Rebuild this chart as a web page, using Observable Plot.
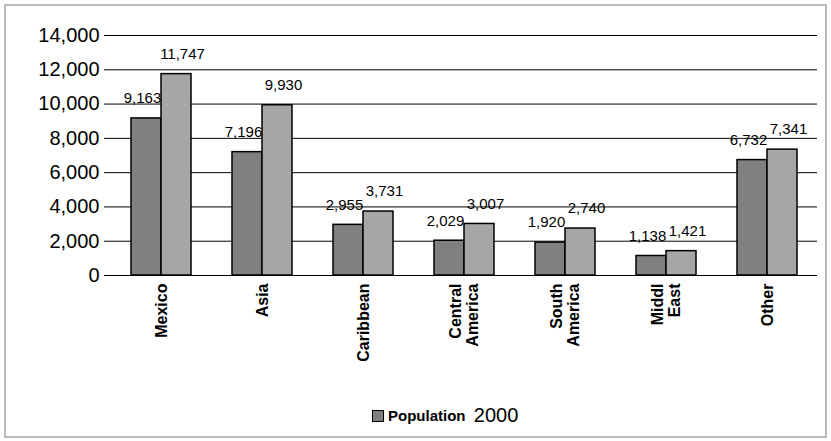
<!DOCTYPE html>
<html><head><meta charset="utf-8">
<script src="https://cdn.jsdelivr.net/npm/d3@7"></script>
<script src="https://cdn.jsdelivr.net/npm/@observablehq/plot@0.6"></script>
<style>
body{margin:0;background:#fff;font-family:Arial,"Liberation Sans",sans-serif}
#box{position:absolute;left:4px;top:4px;width:819px;height:430px;border:2px solid #bbb}
#legend{position:absolute;left:366px;top:398px;font-size:15px;display:flex;align-items:center}
#legend i{display:inline-block;width:10px;height:10px;background:#808080;border:1px solid #000;margin-right:4px}
</style></head>
<body>
<div id="box"><div id="chart"></div>
<div id="legend"><i></i><b>Population</b>&nbsp;&nbsp;<span style="font-size:20px">2000</span></div></div>
<script>
const regions = ['Mexico','Asia','Caribbean','Central America','South America','Middl East','Other']
const labels = ['Mexico','Asia','Caribbean','Central\nAmerica','South\nAmerica','Middl\nEast','Other']
const pop2000 = [9163,7196,2955,2029,1920,1138,6732]
const popLater = [11747,9930,3731,3007,2740,1421,7341]
const yTicks = [0,2000,4000,6000,8000,10000,12000,14000]

const data = []
regions.forEach((r,i) => {
  data.push({region:r, series:'a', v:pop2000[i]})
  data.push({region:r, series:'b', v:popLater[i]})
})
const fmt = d3.format(',')
const lab = new Map(regions.map((r,i) => [r, labels[i]]))

const chart = Plot.plot({
  width: 819, height: 390,
  marginLeft: 103, marginRight: 8, marginTop: 29, marginBottom: 121,
  style: {fontFamily: 'Arial, "Liberation Sans", sans-serif'},
  x: {type: 'band', domain: ['a','b'], paddingInner: 0, paddingOuter: 0.68, axis: null},
  fx: {domain: regions, padding: 0, label: null, axis: null},
  y: {domain: [0,14000], ticks: yTicks, label: null},
  marks: [
    Plot.ruleY(yTicks.slice(1), {stroke: '#000', strokeWidth: 1}),
    Plot.barY(data, {
      fx: 'region', x: 'series', y: 'v',
      fill: d => d.series === 'a' ? '#808080' : '#a6a6a6',
      stroke: '#000', strokeWidth: 1.5, inset: 0
    }),
    Plot.text(data.filter(d => d.series === 'a'), {
      fx: 'region', x: 'series', y: 'v', text: d => fmt(d.v),
      dy: -20, dx: -4, fontSize: 15, fill: '#000'
    }),
    Plot.text(data.filter(d => d.series === 'b'), {
      fx: 'region', x: 'series', y: 'v', text: d => fmt(d.v),
      dy: -20, dx: 6, fontSize: 15, fill: '#000'
    }),
    Plot.axisY({ticks: yTicks, tickFormat: fmt, fontSize: 20, tickSize: 6, tickPadding: 5, label: null}),
    Plot.axisFx({domain: regions, tickFormat: d => lab.get(d), tickRotate: -90, fontSize: 16,
      fontWeight: 'bold', tickSize: 0, tickPadding: 8, label: null, anchor: 'bottom', lineHeight: 1.1}),
    Plot.ruleY([0], {stroke: '#000'})
  ]
})
document.getElementById('chart').append(chart)
</script>
</body></html>
